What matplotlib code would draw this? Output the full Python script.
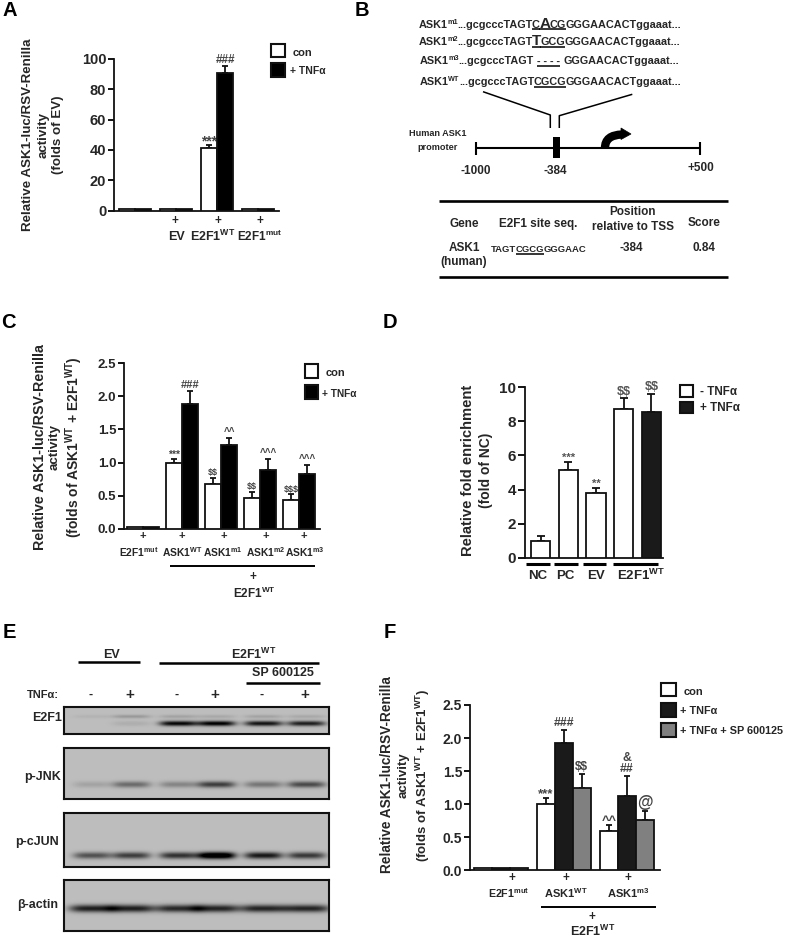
import numpy as np
import matplotlib
matplotlib.use("Agg")
import matplotlib.pyplot as plt
from matplotlib.patches import Rectangle, PathPatch, Polygon
from matplotlib.path import Path

plt.rcParams['font.family'] = ['Liberation Sans', 'DejaVu Sans']
plt.rcParams['mathtext.fontset'] = 'custom'
plt.rcParams['mathtext.rm'] = 'Liberation Sans:bold'
plt.rcParams['mathtext.default'] = 'rm'

W, H = 786, 939
INK = '#262626'
WT = r'$^{\mathrm{WT}}$'
MUT = r'$^{\mathrm{mut}}$'

# panel A
a_ticks = [0, 20, 40, 60, 80, 100]
a_con = [0.8, 0.8, 41, 0.8]
a_tnf = [0.8, 0.8, 90.5, 1.0]
a_con_err = [0, 0, 2.5, 0]
a_tnf_err = [0, 0, 4.5, 0]
a_con_sig = ['', '', '***', '']
a_tnf_sig = ['', '', '###', '']

# panel C
c_ticks = [0.0, 0.5, 1.0, 1.5, 2.0, 2.5]
c_con = [0.02, 1.0, 0.67, 0.47, 0.43]
c_tnf = [0.02, 1.88, 1.27, 0.89, 0.83]
c_con_err = [0, 0.06, 0.10, 0.09, 0.09]
c_tnf_err = [0, 0.20, 0.10, 0.17, 0.14]
c_con_sig = ['', '***', '$$', '$$', '$$$']
c_tnf_sig = ['', '###', '^^', '^^^', '^^^']

# panel D
d_ticks = [0, 2, 4, 6, 8, 10]
d_vals = [1.0, 5.15, 3.8, 8.7, 8.55]
d_errs = [0.27, 0.45, 0.3, 0.65, 1.05]
d_sig = ['', '***', '**', '$$', '$$']
d_cols = ['white', 'white', 'white', 'white', '#1a1a1a']

# panel F
f_ticks = [0.0, 0.5, 1.0, 1.5, 2.0, 2.5]
f_con = [0.04, 1.0, 0.6]
f_tnf = [0.04, 1.92, 1.13]
f_sp = [0.03, 1.24, 0.76]
f_con_err = [0, 0.10, 0.09]
f_tnf_err = [0, 0.20, 0.30]
f_sp_err = [0, 0.22, 0.14]
f_con_sig = ['', '***', '^^']
f_tnf_sig = ['', '###', '&\n##']
f_sp_sig = ['', '$$', '@']

# panel E, band darkness per lane
lanes = [91, 130, 177, 215, 262, 305]
e2f1_main = [0.0, 0.06, 0.72, 0.75, 0.66, 0.62]
e2f1_upper = [0.04, 0.14, 0.10, 0.08, 0.10, 0.08]
jnk_band = [0.10, 0.32, 0.22, 0.50, 0.28, 0.45]
cjun_band = [0.42, 0.50, 0.55, 0.95, 0.65, 0.52]
actin_band = [0.62, 0.62, 0.58, 0.60, 0.60, 0.60]

# significance text: symbol -> (font size, shift in points)
a_marks = {'*': (10, -3), '#': (8.5, 0)}
c_marks = {'*': (7.5, -1.5), '#': (8, 0), '$': (6.5, 0), '^': (7, 0)}
d_marks = {'*': (8, -1), '$': (9, 0)}
f_marks = {'*': (9.5, -2.5), '#': (8.8, 0), '$': (8.5, 0), '^': (9.3, -2), '&': (8.8, 0), '@': (11.5, 0)}

fig = plt.figure(figsize=(W / 100, H / 100), dpi=100)
ov = fig.add_axes([0, 0, 1, 1], zorder=10)
ov.set_xlim(0, W)
ov.set_ylim(H, 0)
ov.axis('off')


def t(x, y, s, size=9, weight='bold', ha='center', va='center', **kw):
    kw.setdefault('color', INK)
    return ov.text(x, y, s, fontsize=size, fontweight=weight, ha=ha, va=va, **kw)


def line(xs, ys, lw=1.4, color='black'):
    ov.plot(xs, ys, color=color, lw=lw, solid_capstyle='butt')


def box(x0, y0, x1, y1, fc):
    ov.add_patch(Rectangle((x0, y0), x1 - x0, y1 - y0, fc=fc, ec='#111111', lw=1.5))


def make_axes(left, top, right, bottom, x0, x1, ymax, ticks, fmt, size=9.5):
    ax = fig.add_axes([left / W, 1 - bottom / H, (right - left) / W, (bottom - top) / H])
    ax.set_xlim(x0, x1)
    ax.set_ylim(0, ymax)
    for s in ['top', 'right']:
        ax.spines[s].set_visible(False)
    for s in ['left', 'bottom']:
        ax.spines[s].set_linewidth(1.3)
        ax.spines[s].set_color('#111111')
    ax.set_xticks([])
    ax.set_yticks(ticks)
    ax.set_yticklabels([fmt % v for v in ticks], fontweight='bold', fontsize=size, color=INK)
    ax.tick_params(axis='y', length=4, width=1.3, pad=1.5)
    ax.patch.set_alpha(0)
    return ax


def bars(ax, xs, vals, errs, sig, width, color, marks, cap=2.5, sig_color='#444444'):
    ax.bar(xs, vals, width, color=color, edgecolor='#111111', linewidth=1.3, zorder=3)
    for x, v, e, s in zip(xs, vals, errs, sig):
        if e > 0:
            ax.errorbar(x, v, yerr=[[0], [e]], color='#111111', elinewidth=1.3,
                        capsize=cap, capthick=1.3, zorder=2)
        if s:
            size, dy = marks[s[0]]
            ax.annotate(s, (x, v + e), xytext=(0, 0.5 + dy), textcoords='offset points',
                        ha='center', va='bottom', fontsize=size, fontweight='bold',
                        color=sig_color, linespacing=0.9, annotation_clip=False,
                        parse_math=False)


# panel letters
for s, x, y in [('A', 10, 11), ('B', 362, 11), ('C', 8, 323), ('D', 390, 323), ('E', 9, 633), ('F', 390, 633)]:
    t(x, y, s, size=14.5, color='black')

# ---- A
ax = make_axes(114, 58.7, 279, 210.7, -0.51, 3.51, 100, a_ticks, '%d', size=10.5)
g = np.arange(4)
bars(ax, g - 0.2, a_con, a_con_err, a_con_sig, 0.4, 'white', a_marks)
bars(ax, g + 0.2, a_tnf, a_tnf_err, a_tnf_sig, 0.4, 'black', a_marks)
t(28, 135, 'Relative ASK1-luc/RSV-Renilla', rotation=90, size=9.6)
t(44, 135, 'activity', rotation=90, size=9.6)
t(58, 135, '(folds of EV)', rotation=90, size=9.6)
for x in [175, 218, 260]:
    t(x, 221, '+', size=8.5)
t(176.5, 237, 'EV', size=9)
t(213, 236, 'E2F1' + WT, size=9)
t(260, 236, 'E2F1' + MUT, size=8.5)
box(271, 44, 285, 57, 'white')
box(271, 63, 285, 77, 'black')
t(293, 53, 'con', ha='left', size=8)
t(290, 71, '+ TNFα', ha='left', size=7.5)

# ---- C
ax = make_axes(124, 363.3, 320, 528.7, -0.49, 4.53, 2.5, c_ticks, '%.1f')
g = np.arange(5)
bars(ax, g - 0.205, c_con, c_con_err, c_con_sig, 0.41, 'white', c_marks)
bars(ax, g + 0.205, c_tnf, c_tnf_err, c_tnf_sig, 0.41, 'black', c_marks)
t(40, 447, 'Relative ASK1-luc/RSV-Renilla', rotation=90, size=10.3)
t(55, 447, 'activity', rotation=90, size=9.6)
t(74, 447, '(folds of ASK1' + WT + ' + E2F1' + WT + ')', rotation=90, size=10)
for x in [143, 182, 224, 266, 304]:
    t(x, 536, '+', size=8)
for x, s in [(139, 'E2F1' + MUT), (182, 'ASK1' + WT), (223, r'ASK1$^{\mathrm{m1}}$'),
             (265.5, r'ASK1$^{\mathrm{m2}}$'), (305, r'ASK1$^{\mathrm{m3}}$')]:
    t(x, 552, s, size=7.4)
line([170, 315], [566, 566])
t(253, 577, '+', size=8.5)
t(254, 593, 'E2F1' + WT, size=8.5)
box(305, 364, 318, 378, 'white')
box(305, 385, 318, 399, 'black')
t(326, 373, 'con', ha='left', size=8)
t(322, 394, '+ TNFα', ha='left', size=7.3)

# ---- D
ax = make_axes(525.3, 387.3, 663, 557.7, -0.55, 4.42, 10, d_ticks, '%d', size=11)
ax.tick_params(axis='y', length=5)
g = np.arange(5)
bars(ax, g, d_vals, d_errs, d_sig, 0.7, d_cols, d_marks, cap=3, sig_color='#555555')
t(468, 470, 'Relative fold enrichment', rotation=90, size=10.6)
t(486, 470, '(fold of NC)', rotation=90, size=10)
for xs in [(526, 550), (554, 578), (583, 606), (613, 658)]:
    line(xs, [564, 564], lw=2.2)
t(538, 576, 'NC', size=9.5)
t(565, 576, 'PC', size=9.5)
t(596, 576, 'EV', size=9.5)
t(641, 575, 'E2F1' + WT, size=9.5)
box(680, 385, 693, 397, 'white')
box(680, 402, 693, 413, '#1a1a1a')
t(700, 392, '- TNFα', ha='left', size=8.4)
t(700, 408, '+ TNFα', ha='left', size=8.4)

# ---- F
ax = make_axes(470, 705, 660.3, 870.3, -0.489, 2.53, 2.5, f_ticks, '%.1f', size=10)
g = np.arange(3)
bars(ax, g - 0.286, f_con, f_con_err, f_con_sig, 0.286, 'white', f_marks)
bars(ax, g, f_tnf, f_tnf_err, f_tnf_sig, 0.286, '#1a1a1a', f_marks)
bars(ax, g + 0.286, f_sp, f_sp_err, f_sp_sig, 0.286, '#808080', f_marks)
t(387, 775, 'Relative ASK1-luc/RSV-Renilla', rotation=90, size=9.8)
t(404, 775, 'activity', rotation=90, size=9.5)
t(423, 775, '(folds of ASK1' + WT + ' + E2F1' + WT + ')', rotation=90, size=9.5)
for x in [512, 566, 628]:
    t(x, 878, '+', size=8.5)
t(509, 893, 'E2F1' + MUT, size=7.7)
t(566, 893, 'ASK1' + WT, size=8)
t(628, 893, r'ASK1$^{\mathrm{m3}}$', size=8)
line([541, 656], [907, 907])
t(592, 917, '+', size=8.5)
t(593, 931, 'E2F1' + WT, size=9)
box(661, 683, 676, 696, 'white')
box(661, 703, 676, 717, '#1a1a1a')
box(661, 723, 676, 737, '#808080')
t(684, 692, 'con', ha='left', size=8)
t(680, 711, '+ TNFα', ha='left', size=7.8)
t(680, 731, '+ TNFα + SP 600125', ha='left', size=7.8)


# ---- E blots
def blot(top, bottom, band_y, strengths, sigma, upper=None, upper_y=0, bg=0.74, half=19.0):
    ys, xs = np.mgrid[top:bottom, 63:329]
    img = np.full(xs.shape, bg, dtype=float)
    for lane, s in zip(lanes, strengths):
        img -= s * np.exp(-((xs - lane) / half) ** 4) * np.exp(-((ys - band_y) / sigma) ** 2)
    if upper is not None:
        for lane, s in zip(lanes, upper):
            img -= s * np.exp(-((xs - lane) / half) ** 4) * np.exp(-((ys - upper_y) / 1.8) ** 2)
    ax = fig.add_axes([63.5 / W, 1 - bottom / H, 265.5 / W, (bottom - top) / H])
    ax.imshow(img, cmap='gray', vmin=0, vmax=1, aspect='auto', interpolation='bilinear')
    ax.set_xticks([])
    ax.set_yticks([])
    for s in ax.spines.values():
        s.set_linewidth(1.5)
        s.set_color('#111111')


blot(707, 734, 723, e2f1_main, 2.6, e2f1_upper, 716)
blot(748, 799, 784, jnk_band, 3.2)
blot(813, 867, 855, cjun_band, 3.4)
blot(880, 931, 908, actin_band, 3.8, half=23.0)

t(111, 655, 'EV', size=9)
line([78, 140], [662, 662], lw=1.8)
t(254, 654, 'E2F1' + WT, size=9)
line([159, 319], [662.5, 662.5], lw=1.8)
t(283, 673, 'SP 600125', size=9)
line([246, 320], [683, 683], lw=1.8)
t(59, 695, 'TNFα:', ha='right', size=8)
for x, s in zip(lanes, ['-', '+', '-', '+', '-', '+']):
    t(x, 695, s, size=11 if s == '+' else 9)
t(47, 718, 'E2F1', size=9)
t(43, 777, 'p-JNK', size=9)
t(37, 842, 'p-cJUN', size=9)
t(38, 905, 'β-actin', size=9)


# ---- B
def seq(x, y, pieces):
    # lay out text pieces one after another, underline where asked
    rend = fig.canvas.get_renderer()
    for s, size, raise_px, under in pieces:
        txt = t(x, y - raise_px, s, size=size, ha='left', va='baseline')
        w = txt.get_window_extent(rend).width
        if under:
            line([x, x + w], [y + 1.8, y + 1.8], lw=1.1)
        x += w - 0.6


S = 7.8
seq(419, 27.5, [('ASK1', S, 0, False), ('m1', 5.2, 4, False), ('...gcgcccTAGT', S, 0, False),
                ('C', S, 0, True), ('A', 11, 0, True), ('CG', S, 0, True), ('GGGAACACTggaaat...', S, 0, False)])
seq(419, 45, [('ASK1', S, 0, False), ('m2', 5.2, 4, False), ('...gcgcccTAGT', S, 0, False),
              ('T', 11, 0, True), ('GCG', S, 0, True), ('GGGAACACTggaaat...', S, 0, False)])
seq(420, 64, [('ASK1', S, 0, False), ('m3', 5.2, 4, False), ('...gcgcccTAGT', S, 0, False)])
t(537, 64, '- - - -', size=S, ha='left', va='baseline')
line([537, 560], [65.8, 65.8], lw=1.1)
t(563, 64, 'GGGAACACTggaaat...', size=S, ha='left', va='baseline')
seq(420, 85, [('ASK1', S, 0, False), ('WT', 5.2, 4, False), ('...gcgcccTAGT', S, 0, False),
              ('CGCG', S, 0, True), ('GGGAACACTggaaat...', S, 0, False)])

line([483, 550.3, 550.3], [91.7, 115, 128], lw=1.1)
line([632.3, 559.3, 559.3], [94.3, 115.7, 128], lw=1.1)
line([475.7, 699.7], [148, 148], lw=1.5)
line([475.7, 475.7], [141.7, 155], lw=1.5)
line([699.7, 699.7], [141.7, 155], lw=1.5)
ov.add_patch(Rectangle((552.5, 136.7), 7.5, 21.6, fc='black', ec='none'))
turn = Path([(605, 148), (605, 135), (622, 134.5)], [Path.MOVETO, Path.CURVE3, Path.CURVE3])
ov.add_patch(PathPatch(turn, fc='none', ec='black', lw=6, capstyle='butt'))
ov.add_patch(Polygon([(621, 128), (631, 134), (621, 139.5)], fc='black', ec='black', lw=0.5))

t(438, 134, 'Human ASK1', size=6.6)
t(438, 147, 'promoter', size=6.6)
t(476, 171, '-1000', size=8.5)
t(555, 171, '-384', size=8.5)
t(701, 168, '+500', size=8.5)

line([438.7, 727.5], [201.3, 201.3], lw=1.9)
line([438.7, 727.5], [276.7, 276.7], lw=1.9)
t(464, 224, 'Gene', size=8.5)
t(538, 224, 'E2F1 site seq.', size=8.5)
t(633, 212, 'Position', size=8.5)
t(633, 227, 'relative to TSS', size=8.5)
t(704, 223, 'Score', size=8.5)
t(464, 248, 'ASK1', size=8.5)
t(464, 262, '(human)', size=8.5)
seq(491, 252, [('TAGT', 6.8, 0, False), ('CGCG', 6.8, 0, True), ('GGGAAC', 6.8, 0, False)])
t(631, 248, '-384', size=8.5)
t(704, 248, '0.84', size=8.5)

fig.savefig('out.png', dpi=100)
